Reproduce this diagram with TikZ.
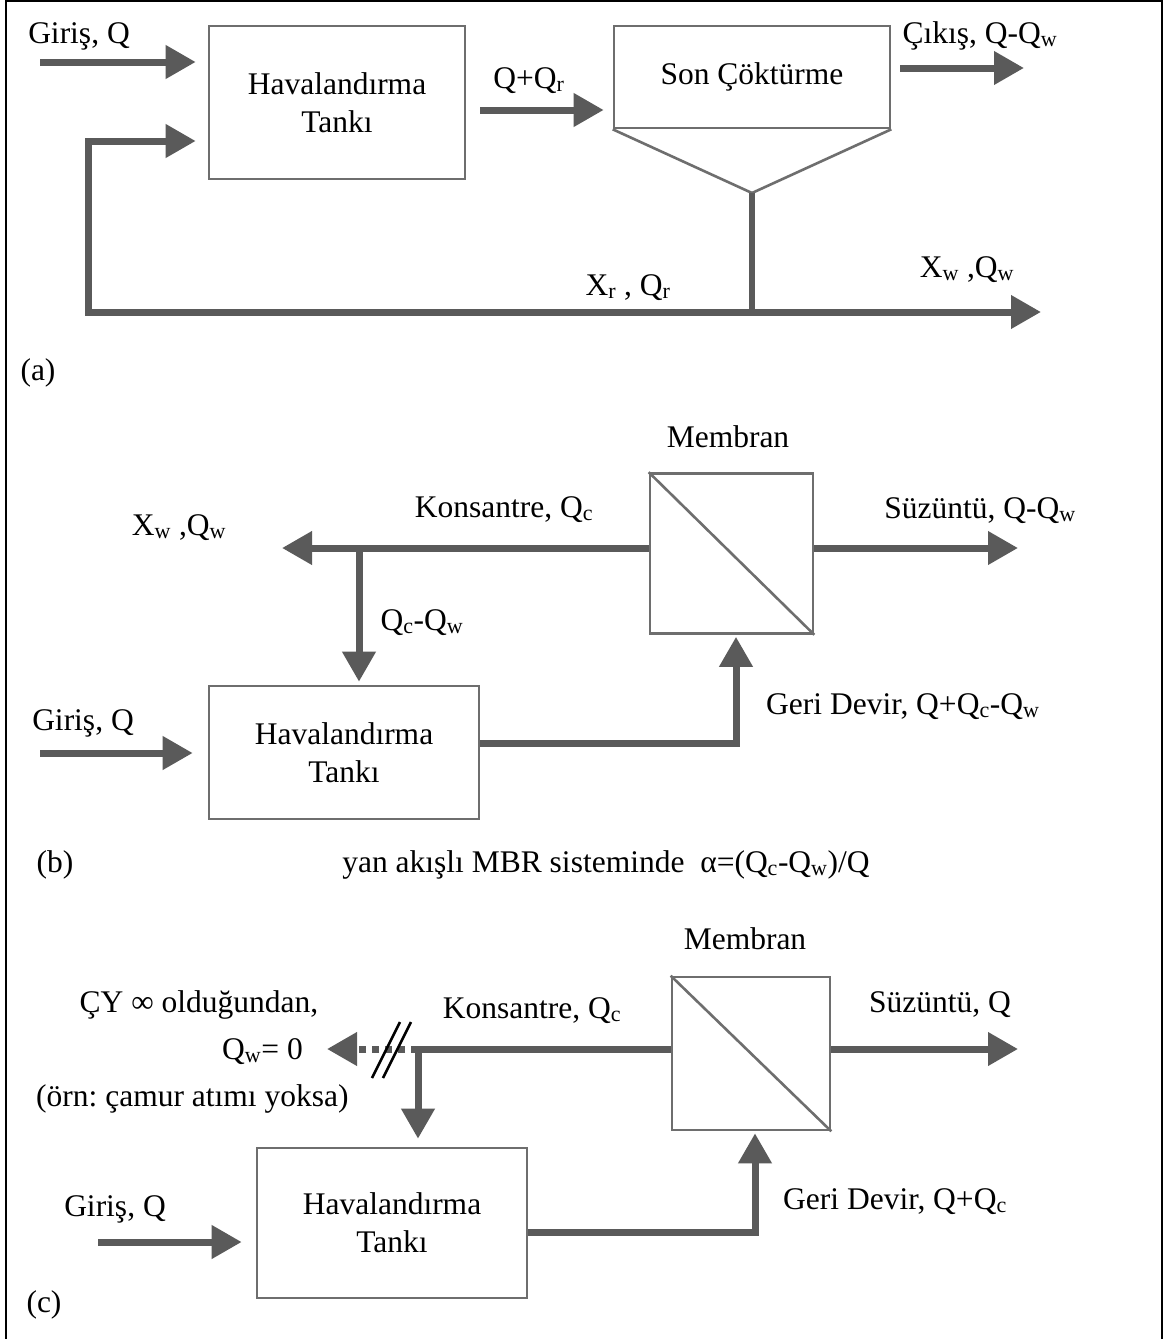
\documentclass[tikz,border=0pt]{standalone}
\usepackage{fontspec}
\setmainfont{Liberation Serif}
\usetikzlibrary{arrows.meta}
\frenchspacing
\definecolor{flowgray}{HTML}{5A5A5A}
\definecolor{edgegray}{HTML}{6E6E6E}
\tikzset{
  txt/.style={font=\fontsize{31.5}{38}\selectfont, inner sep=0pt, anchor=base},
  tank/.style={draw=edgegray, line width=2.6pt, align=center, inner sep=0pt,
    font=\fontsize{31.5}{38}\selectfont},
  flow/.style={draw=flowgray, line width=7pt, -{Triangle[length=30pt,width=32pt]}},
  pipe/.style={draw=flowgray, line width=7pt},
  thin/.style={draw=edgegray, line width=2.6pt},
}
\begin{document}
\begin{tikzpicture}[x=1pt,y=-1pt]
\useasboundingbox (0,0) rectangle (1163,1339);
\fill[white] (0,0) rectangle (1163,1339);
% outer frame
\draw[black, line width=1.6pt] (6,1340) -- (6,1) -- (1162,1) -- (1162,1340);

% ---------------- (a) conventional activated sludge ----------------
\node[tank, minimum width=256pt, minimum height=153pt] (havA) at (337,102.5) {Havalandırma\\Tankı};
\node[tank, minimum width=276pt, minimum height=102pt] (sedA) at (752,77) {Son Çöktürme};
\coordinate (apexA) at (752,193);
\draw[thin, line join=miter] (sedA.south west) -- (apexA) -- (sedA.south east);
\coordinate (junA) at (752,312);
\coordinate (cornerA) at (88,312);
\coordinate (recA) at (88,141);
\coordinate (outA) at (1041,312);
\coordinate (inA) at (40,62);
\coordinate (qA) at (480,110);
\coordinate (cikA) at (1024,68);

\draw[pipe, line width=6pt] (apexA) -- (junA);
\draw[draw=flowgray, line width=7pt,
  {Triangle[length=30pt,width=32pt]}-{Triangle[length=30pt,width=32pt]},
  shorten <=12pt] (recA -| havA.west) -- (recA) -- (cornerA) -- (outA);
\draw[flow, shorten >=12pt] (inA) -- (inA -| havA.west);
\draw[flow, shorten >=9pt] (qA) -- (qA -| sedA.west);
\draw[flow, shorten <=9pt] (cikA -| sedA.east) -- (cikA);

\node[txt] (girisA) at (79,43) {Giriş, Q};
\node[txt] (qqA) at (529,88) {Q+Q\textsubscript{r}};
\node[txt] (cikisA) at (980,43) {Çıkış, Q-Q\textsubscript{w}};
\node[txt] (xrA) at (628,295) {X\textsubscript{r} , Q\textsubscript{r}};
\node[txt] (xwA) at (967,277) {X\textsubscript{w} ,Q\textsubscript{w}};
\node[txt] (labA) at (38,380) {(a)};

% ---------------- (b) side-stream MBR ----------------
\node[tank, minimum width=163pt, minimum height=160pt] (memB) at (731.5,553.5) {};
\draw[thin] (memB.north west) -- (memB.south east);
\node[tank, minimum width=270pt, minimum height=133pt] (havB) at (344,752.5) {Havalandırma\\Tankı};
\coordinate (xwB) at (282,548);
\coordinate (junB) at (359,548);
\coordinate (szB) at (1018,548);
\coordinate (inB) at (40,753);
\coordinate (retB) at (736,743);

\draw[flow] (memB.west |- xwB) -- (xwB);
\draw[flow, shorten >=3pt] (junB) -- (junB |- havB.north);
\draw[flow] (memB.east |- szB) -- (szB);
\draw[flow, shorten >=15pt] (inB) -- (inB -| havB.west);
\draw[flow, shorten >=2pt] (havB.east |- retB) -- (retB) -- (retB |- memB.south);

\node[txt] (memlabB) at (728,447) {Membran};
\node[txt] (konsB) at (504,517) {Konsantre, Q\textsubscript{c}};
\node[txt] (xwlabB) at (179,535) {X\textsubscript{w} ,Q\textsubscript{w}};
\node[txt] (qcqwB) at (422,630) {Q\textsubscript{c}-Q\textsubscript{w}};
\node[txt] (szlabB) at (980,518) {Süzüntü, Q-Q\textsubscript{w}};
\node[txt] (girisB) at (83,730) {Giriş, Q};
\node[txt, anchor=base west] (geriB) at (766,714) {Geri Devir, Q+Q\textsubscript{c}-Q\textsubscript{w}};
\node[txt] (labB) at (55,872) {(b)};
\node[txt] (alphaB) at (606,872) {yan akışlı MBR sisteminde\ \ α=(Q\textsubscript{c}-Q\textsubscript{w})/Q};

% ---------------- (c) MBR without sludge wasting ----------------
\node[tank, minimum width=158pt, minimum height=153pt] (memC) at (751,1053.5) {};
\draw[thin] (memC.north west) -- (memC.south east);
\node[tank, minimum width=270pt, minimum height=150pt] (havC) at (392,1223) {Havalandırma\\Tankı};
\coordinate (junC) at (418,1049);
\coordinate (wC) at (327,1049);
\coordinate (szC) at (1018,1049);
\coordinate (inC) at (98,1242);
\coordinate (retC) at (755,1232);

\draw[pipe] (memC.west |- junC) -- (junC);
\draw[flow, dash pattern=on 7pt off 6pt] (junC) -- (wC);
\draw[flow, shorten >=8pt] (junC) -- (junC |- havC.north);
\draw[flow] (memC.east |- szC) -- (szC);
\draw[flow, shorten >=14pt] (inC) -- (inC -| havC.west);
\draw[flow, shorten >=2pt] (havC.east |- retC) -- (retC) -- (retC |- memC.south);
% break mark on the wasting line
\draw[black, line width=2.6pt] (372,1078) -- (400,1022);
\draw[black, line width=2.6pt] (383,1078) -- (411,1022);

\node[txt] (memlabC) at (745,949) {Membran};
\node[txt] (konsC) at (532,1018) {Konsantre, Q\textsubscript{c}};
\node[txt] (cyC) at (199,1012) {ÇY ∞ olduğundan,};
\node[txt, anchor=base east] (qwC) at (303,1059) {Q\textsubscript{w}= 0};
\node[txt, anchor=base west] (ornC) at (36,1106) {(örn: çamur atımı yoksa)};
\node[txt] (szlabC) at (940,1012) {Süzüntü, Q};
\node[txt] (girisC) at (115,1216) {Giriş, Q};
\node[txt, anchor=base west] (geriC) at (783,1209) {Geri Devir, Q+Q\textsubscript{c}};
\node[txt] (labC) at (44,1312) {(c)};
\end{tikzpicture}
\end{document}
